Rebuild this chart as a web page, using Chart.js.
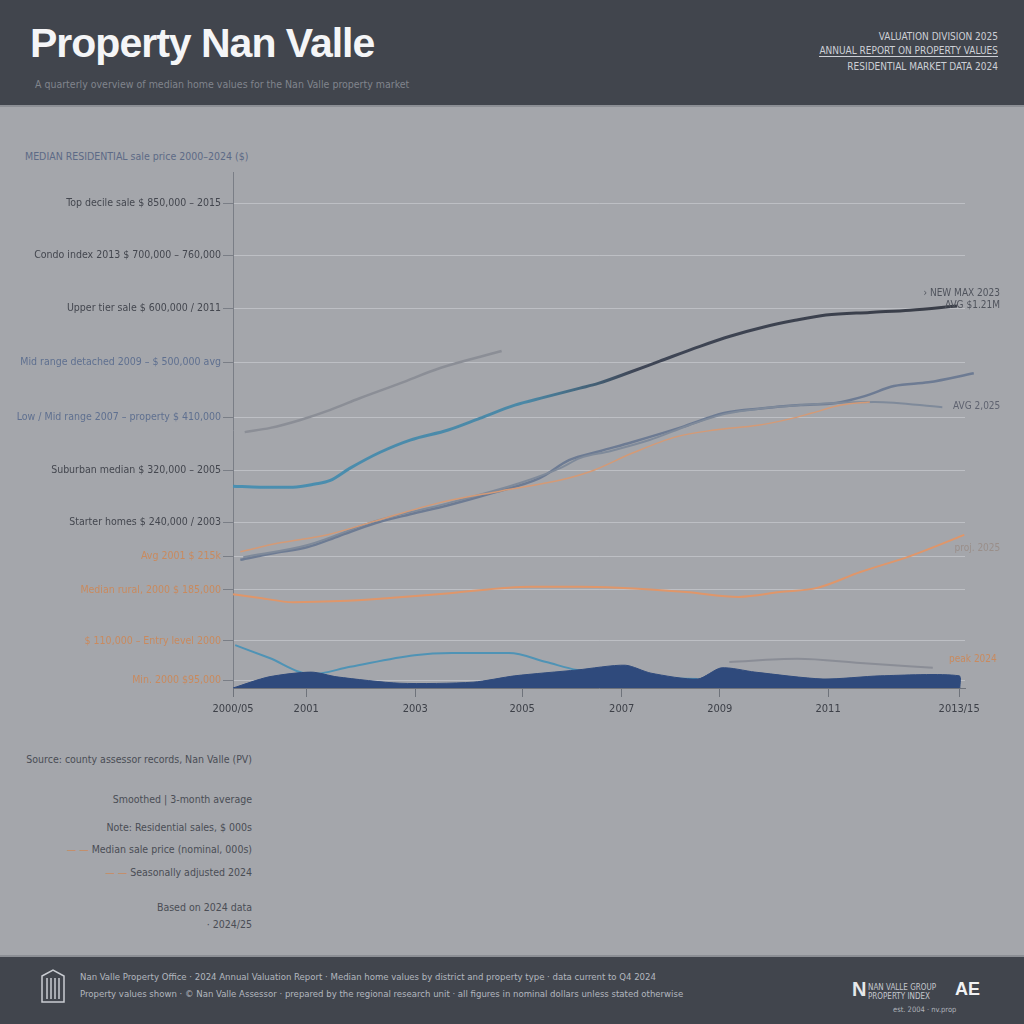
<!DOCTYPE html>
<html>
<head>
<meta charset="utf-8">
<script src="https://cdn.jsdelivr.net/npm/chart.js@4.4.1/dist/chart.umd.min.js"></script>
<style>
  html, body { margin:0; padding:0; }
  body { width:1024px; height:1024px; background:#a4a6ab; position:relative; overflow:hidden; font-family:"DejaVu Sans Condensed", "Liberation Sans", sans-serif; }
  .band { position:absolute; left:0; width:1024px; background:#41454d; }
  #head { top:0; height:105px; border-bottom:2px solid #8c8f95; }
  #foot { top:955px; height:69px; border-top:2px solid #8c8f95; }
  .t { position:absolute; white-space:nowrap; }
  #title { left:30px; top:20px; font-family:"Liberation Sans", Arial, sans-serif; font-weight:bold; font-size:41px; color:#f4f5f7; letter-spacing:-1px; }
  #sub { left:35px; top:78px; font-size:10.5px; color:#80848c; }
  .hr { right:26px; font-size:10px; color:#cdd0d6; text-align:right; }
  .note { right:772px; font-size:10.5px; color:#4a4d55; text-align:right; }
  .or { color:#c98a5e; }
  .ft { left:80px; font-size:9.5px; color:#b3b7bf; }
  #chart { position:absolute; left:0; top:0; }
</style>
</head>
<body>
<div id="head" class="band"></div>
<div id="foot" class="band"></div>
<div id="title" class="t">Property Nan Valle</div>
<div id="sub" class="t">A quarterly overview of median home values for the Nan Valle property market</div>
<div class="t hr" style="top:31px">VALUATION DIVISION 2025</div>
<div class="t hr" style="top:45px;border-bottom:1px solid #cdd0d6">ANNUAL REPORT ON PROPERTY VALUES</div>
<div class="t hr" style="top:61px">RESIDENTIAL MARKET DATA 2024</div>

<div class="t" style="left:25px;top:150px;font-size:10.5px;color:#5d6a86;">MEDIAN RESIDENTIAL sale price 2000–2024 ($)</div>

<div class="t note" style="top:753px">Source: county assessor records, Nan Valle (PV)</div>
<div class="t note" style="top:793px">Smoothed | 3-month average</div>
<div class="t note" style="top:821px">Note: Residential sales, $ 000s</div>
<div class="t note" style="top:843px"><span class="or">— —</span> Median sale price (nominal, 000s)</div>
<div class="t note" style="top:866px"><span class="or">— —</span> Seasonally adjusted 2024</div>
<div class="t note" style="top:901px">Based on 2024 data</div>
<div class="t note" style="top:918px">· 2024/25</div>

<svg class="t" style="left:40px;top:968px" width="26" height="36" viewBox="0 0 26 36">
  <path d="M2 8 L13 2 L24 8 L24 34 L2 34 Z" fill="none" stroke="#c9ccd2" stroke-width="1.5"/>
  <path d="M7 10 V31 M11 10 V31 M15 10 V31 M19 10 V31" stroke="#c9ccd2" stroke-width="1.5"/>
</svg>
<div class="t ft" style="top:971px">Nan Valle Property Office · 2024 Annual Valuation Report · Median home values by district and property type · data current to Q4 2024</div>
<div class="t ft" style="top:988px">Property values shown · © Nan Valle Assessor · prepared by the regional research unit · all figures in nominal dollars unless stated otherwise</div>
<div class="t" style="left:852px;top:978px;font-size:20px;font-weight:bold;color:#e6e8eb;font-family:'Liberation Sans Narrow','Liberation Sans',sans-serif;">N</div>
<div class="t" style="left:868px;top:983px;font-size:8px;color:#c5c8ce;line-height:9px;">NAN VALLE GROUP<br>PROPERTY INDEX</div>
<div class="t" style="left:955px;top:979px;font-size:18px;font-weight:bold;color:#f1f2f4;font-family:'Liberation Sans',sans-serif;">AE</div>
<div class="t" style="left:893px;top:1005px;font-size:7.5px;color:#aeb2b9;">est. 2004 · nv.prop</div>

<canvas id="chart" width="1024" height="1024"></canvas>
<script>
// values: x is position along the time axis (0-100), y is index value
var xTicks = [0, 10, 24.9, 39.5, 53.1, 66.5, 81.3, 99.2];
var xLabels = ['2000/05', '2001', '2003', '2005', '2007', '2009', '2011', '2013/15'];

var yTicks = [0.15, 0.89, 1.85, 2.49, 3.13, 4.11, 5.11, 6.15, 7.17, 8.17, 9.15];
var yLabels = [
  'Min. 2000 $95,000',
  '$ 110,000 – Entry level 2000',
  'Median rural, 2000 $ 185,000',
  'Avg 2001 $ 215k',
  'Starter homes $ 240,000 / 2003',
  'Suburban median $ 320,000 – 2005',
  'Low / Mid range 2007 – property $ 410,000',
  'Mid range detached 2009 – $ 500,000 avg',
  'Upper tier sale $ 600,000 / 2011',
  'Condo index 2013 $ 700,000 – 760,000',
  'Top decile sale $ 850,000 – 2015'
];
var yLabelColors = ['#c98a5e', '#c98a5e', '#c98a5e', '#c98a5e', '#44474f', '#44474f',
  '#5f7090', '#5f7090', '#44474f', '#44474f', '#44474f'];

var xEarly = [1.6, 5.1, 9.2, 13.3, 17.3, 22.8, 28.3, 36.7];
var yEarly = [4.83, 4.91, 5.06, 5.25, 5.47, 5.75, 6.04, 6.36];

var xMain = [0, 3.7, 8.2, 11.2, 13.3, 16.0, 20.1, 24.2, 29.4, 33.7, 38.5, 42.6, 47.4, 49.9, 54.2, 58.3, 63.8, 67.9, 72.4, 76.8, 81.0, 87.0, 92.5, 98.9];
var yMain = [3.81, 3.79, 3.79, 3.85, 3.92, 4.15, 4.45, 4.68, 4.87, 5.09, 5.34, 5.49, 5.66, 5.75, 5.96, 6.17, 6.45, 6.64, 6.81, 6.94, 7.04, 7.09, 7.13, 7.21];

var xSlate = [1.0, 5.7, 10.2, 14.5, 19.4, 24.2, 29.4, 35.4, 41.9, 45.9, 50.1, 54.5, 61.2, 67.1, 72.4, 77.5, 82.4, 86.3, 90.3, 95.0, 101.2];
var ySlate = [2.42, 2.55, 2.66, 2.87, 3.11, 3.28, 3.45, 3.68, 3.96, 4.30, 4.47, 4.64, 4.92, 5.19, 5.28, 5.34, 5.38, 5.51, 5.70, 5.77, 5.94];

var xGrey = [1.4, 10.2, 19.4, 29.4, 39.2, 44.7, 47.4, 51.5, 56.9, 62.3, 67.1, 72.4, 82.4, 87.7, 96.9];
var yGrey = [2.47, 2.70, 3.15, 3.49, 3.87, 4.15, 4.34, 4.47, 4.68, 4.96, 5.17, 5.28, 5.38, 5.40, 5.30];

var xAdj = [1.0, 6.4, 12.8, 19.4, 28.0, 36.6, 45.2, 49.3, 54.5, 60.5, 65.8, 71.7, 76.1, 79.1, 83.1, 87.0];
var yAdj = [2.57, 2.74, 2.89, 3.15, 3.49, 3.72, 3.94, 4.11, 4.43, 4.74, 4.87, 4.96, 5.08, 5.19, 5.34, 5.40];

var xNominal = [0, 3.7, 8.2, 14.6, 21.4, 29.6, 40.7, 47.4, 52.6, 61.9, 69.1, 74.7, 79.8, 85.7, 92.5, 99.9];
var yNominal = [1.77, 1.70, 1.62, 1.64, 1.70, 1.79, 1.91, 1.91, 1.89, 1.81, 1.72, 1.81, 1.89, 2.19, 2.49, 2.89];

var xVolume = [0, 4.9, 10.7, 14.2, 22.8, 32.8, 38.5, 47.0, 53.6, 57.1, 63.5, 66.7, 71.3, 80.6, 88.5, 99.2, 99.3];
var yVolume = [0, 0.21, 0.30, 0.21, 0.09, 0.11, 0.23, 0.34, 0.43, 0.28, 0.17, 0.38, 0.30, 0.17, 0.23, 0.23, 0];

var xListings = [0.3, 4.9, 10.7, 16.0, 24.8, 29.9, 37.7, 42.8, 47.0, 50.7, 53.5, 56.3, 63.5];
var yListings = [0.81, 0.57, 0.26, 0.40, 0.62, 0.66, 0.66, 0.49, 0.34, 0.30, null, 0.19, 0.17];

var xRental = [67.8, 77.1, 85.7, 95.6];
var yRental = [0.49, 0.55, 0.47, 0.38];

function pts(xs, ys) {
  var out = [];
  for (var i = 0; i < xs.length; i++) out.push({x: xs[i], y: ys[i]});
  return out;
}

function mainGradient(ctx) {
  var chart = ctx.chart, area = chart.chartArea;
  if (!area) return '#4b8cab';
  var g = chart.ctx.createLinearGradient(area.left, 0, area.right, 0);
  g.addColorStop(0, '#4a8fb1');
  g.addColorStop(0.4, '#4b88a6');
  g.addColorStop(0.55, '#3f4656');
  g.addColorStop(1, '#393d47');
  return g;
}

var endLabels = {
  id: 'endLabels',
  afterDatasetsDraw: function(chart) {
    var c = chart.ctx;
    chart.data.datasets.forEach(function(ds, i) {
      if (!ds.endLabels) return;
      var els = chart.getDatasetMeta(i).data;
      var last = els[els.length - 1];
      ds.endLabels.forEach(function(l) {
        c.save();
        c.font = '10px "DejaVu Sans Condensed", sans-serif';
        c.fillStyle = l.color;
        c.textAlign = 'right';
        c.textBaseline = 'middle';
        c.fillText(l.text, last.x + l.dx, last.y + l.dy);
        c.restore();
      });
    });
  }
};

var common = { fill: false, pointRadius: 0, tension: 0.4, cubicInterpolationMode: 'monotone', clip: 20 };

var datasets = [
  Object.assign({}, common, { label: 'Sales volume', data: pts(xVolume, yVolume), borderColor: '#2f4a7c',
    backgroundColor: '#2f4a7c', borderWidth: 1, fill: 'origin', tension: 0.25, cubicInterpolationMode: 'default' }),
  Object.assign({}, common, { label: 'Listings', data: pts(xListings, yListings), borderColor: '#4f93b5', borderWidth: 2, spanGaps: false }),
  Object.assign({}, common, { label: 'Rental', data: pts(xRental, yRental), borderColor: '#8a8d96', borderWidth: 2,
    endLabels: [{text: 'peak 2024', color: '#c98a5e', dx: 64, dy: -8}] }),
  Object.assign({}, common, { label: 'Nominal', data: pts(xNominal, yNominal), borderColor: '#df966a', borderWidth: 2,
    endLabels: [{text: 'proj. 2025', color: '#9a8f8a', dx: 36, dy: 14}] }),
  Object.assign({}, common, { label: 'Adjusted', data: pts(xAdj, yAdj), borderColor: '#d49a76', borderWidth: 1.5 }),
  Object.assign({}, common, { label: 'Grey', data: pts(xGrey, yGrey), borderColor: '#7f8a9a', borderWidth: 2,
    endLabels: [{text: 'AVG 2,025', color: '#5f6370', dx: 58, dy: -1}] }),
  Object.assign({}, common, { label: 'Slate', data: pts(xSlate, ySlate), borderColor: '#6d7b93', borderWidth: 2.5 }),
  Object.assign({}, common, { label: 'Early', data: pts(xEarly, yEarly), borderColor: '#8b8e96', borderWidth: 2.5 }),
  Object.assign({}, common, { label: 'Median', data: pts(xMain, yMain), borderColor: mainGradient, borderWidth: 3,
    endLabels: [{text: '› NEW MAX 2023', color: '#50545d', dx: 43, dy: -13}, {text: 'AVG $1.21M', color: '#50545d', dx: 43, dy: -1}] })
];

var chart = new Chart(document.getElementById('chart'), {
  type: 'line',
  data: { datasets: datasets },
  plugins: [endLabels],
  options: {
    responsive: false,
    animation: false,
    devicePixelRatio: 1,
    layout: { padding: { top: 172, right: 59, bottom: 296, left: 0 } },
    plugins: { legend: { display: false }, tooltip: { enabled: false } },
    scales: {
      x: {
        type: 'linear', min: 0, max: 100,
        afterBuildTicks: function(s) { s.ticks = xTicks.map(function(v) { return {value: v}; }); },
        afterFit: function(s) { s.height = 40; },
        grid: { drawOnChartArea: false, tickLength: 9, tickColor: '#6f737b' },
        border: { color: '#6f737b' },
        ticks: { padding: 6, color: '#3d4048', font: { size: 11, family: '"DejaVu Sans Condensed", sans-serif' },
          maxRotation: 0, autoSkip: false,
          callback: function(v, i) { return xLabels[i]; } }
      },
      y: {
        type: 'linear', min: 0, max: 9.74,
        afterBuildTicks: function(s) { s.ticks = yTicks.map(function(v) { return {value: v}; }); },
        afterFit: function(s) { s.width = 233; },
        grid: { color: 'rgba(228,230,234,0.4)', tickLength: 10, tickColor: '#7a7e86' },
        border: { color: '#7a7e86' },
        ticks: { padding: 2, autoSkip: false, font: { size: 10.5, family: '"DejaVu Sans Condensed", sans-serif' },
          color: function(ctx) { return yLabelColors[ctx.index]; },
          callback: function(v, i) { return yLabels[i]; } }
      }
    }
  }
});
</script>
</body>
</html>
